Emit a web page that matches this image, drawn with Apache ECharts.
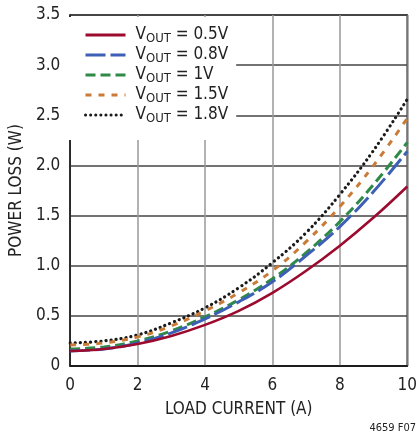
<!DOCTYPE html>
<html>
<head>
<meta charset="utf-8">
<script src="https://cdn.jsdelivr.net/npm/echarts@6/dist/echarts.min.js"></script>
<style>
html,body{margin:0;padding:0;background:#fff;}
#c{width:420px;height:439px;}
</style>
</head>
<body>
<div id="c"></div>
<script>
const xValues = [0, 1, 2, 3, 4, 5, 6, 7, 8, 9, 10];
const seriesNames = ['0.5V', '0.8V', '1V', '1.5V', '1.8V'];
const v05 = [0.15, 0.17, 0.22, 0.30, 0.41, 0.55, 0.73, 0.95, 1.20, 1.48, 1.79];
const v08 = [0.15, 0.17, 0.23, 0.33, 0.47, 0.64, 0.84, 1.10, 1.39, 1.74, 2.14];
const v10 = [0.17, 0.19, 0.25, 0.35, 0.49, 0.66, 0.87, 1.13, 1.44, 1.81, 2.23];
const v15 = [0.21, 0.23, 0.29, 0.40, 0.55, 0.73, 0.95, 1.24, 1.59, 2.00, 2.47];
const v18 = [0.23, 0.25, 0.31, 0.43, 0.58, 0.78, 1.03, 1.33, 1.71, 2.15, 2.66];
const yTickLabels = ['0', '0.5', '1.0', '1.5', '2.0', '2.5', '3.0', '3.5'];

const FONT = "'Liberation Sans Narrow','DejaVu Sans Condensed',sans-serif";
const TXT = '#222';
const allData = [v05, v08, v10, v15, v18];
const styles = [
  {color: '#9c0a2e', type: 'solid', width: 2.6, cap: 'butt'},
  {color: '#3d5fb5', type: [20, 5], width: 3, cap: 'butt'},
  {color: '#2f8a47', type: [10, 5], width: 3, cap: 'butt'},
  {color: '#c97b37', type: [6, 7], width: 3, cap: 'butt'},
  {color: '#1a1a1a', type: [0.1, 5], width: 3.2, cap: 'round'}
];

const series = seriesNames.map((n, i) => ({
  name: n,
  type: 'line',
  smooth: 0.4,
  symbol: 'none',
  showSymbol: false,
  data: xValues.map((x, j) => [x, allData[i][j]]),
  lineStyle: {color: styles[i].color, width: styles[i].width, type: styles[i].type, cap: styles[i].cap},
  itemStyle: {color: styles[i].color},
  z: 5 - i + 2
}));

const chart = echarts.init(document.getElementById('c'), null, {renderer: 'canvas'});
chart.setOption({
  animation: false,
  backgroundColor: '#fff',
  grid: {left: 67, right: 2, top: 15, bottom: 73, show: true, borderColor: '#111', borderWidth: 1.5, backgroundColor: 'transparent'},
  legend: {
    data: seriesNames,
    orient: 'vertical',
    left: 68, top: 17,
    padding: [8, 8, 15, 16],
    itemGap: 0,
    itemWidth: 40, itemHeight: 14,
    backgroundColor: '#fff',
    itemStyle: {opacity: 0},
    lineStyle: {width: 3},
    formatter: n => '{v0|V}{s|OUT}{v| = ' + n + '}',
    textStyle: {
      color: TXT, fontFamily: FONT, lineHeight: 20,
      rich: {
        v0: {fontSize: 17, fontFamily: FONT, color: TXT, padding: [0, 0, 0, 5], lineHeight: 20},
        v: {fontSize: 17, fontFamily: FONT, color: TXT, lineHeight: 20},
        s: {fontSize: 13, fontFamily: FONT, color: TXT, verticalAlign: 'bottom', padding: [6, 0, 0, 0], lineHeight: 13}
      }
    }
  },
  xAxis: {
    type: 'value', min: 0, max: 10, interval: 2,
    name: 'LOAD CURRENT (A)', nameLocation: 'middle', nameGap: 35,
    nameTextStyle: {fontSize: 17, fontFamily: FONT, color: TXT},
    axisLine: {show: true, lineStyle: {color: '#111', width: 1.5}},
    axisTick: {show: false},
    axisLabel: {fontSize: 17, fontFamily: FONT, color: TXT, margin: 11},
    splitLine: {show: true, lineStyle: {color: '#999', width: 1.5}}
  },
  yAxis: {
    type: 'value', min: 0, max: 3.5, interval: 0.5,
    name: 'POWER LOSS (W)', nameLocation: 'middle', nameGap: 38,
    nameTextStyle: {fontSize: 17, fontFamily: FONT, color: TXT},
    axisLine: {show: true, lineStyle: {color: '#111', width: 1.5}},
    axisTick: {show: false},
    axisLabel: {fontSize: 17, fontFamily: FONT, color: TXT, margin: 10,
      formatter: (v) => yTickLabels[Math.round(v / 0.5)]},
    splitLine: {show: true, lineStyle: {color: '#444', width: 1.5}}
  },
  graphic: [{
    type: 'text', right: 4, bottom: 5,
    style: {text: '4659 F07', fontSize: 11, fontFamily: FONT, fill: TXT}
  }],
  series: series
});
</script>
</body>
</html>
